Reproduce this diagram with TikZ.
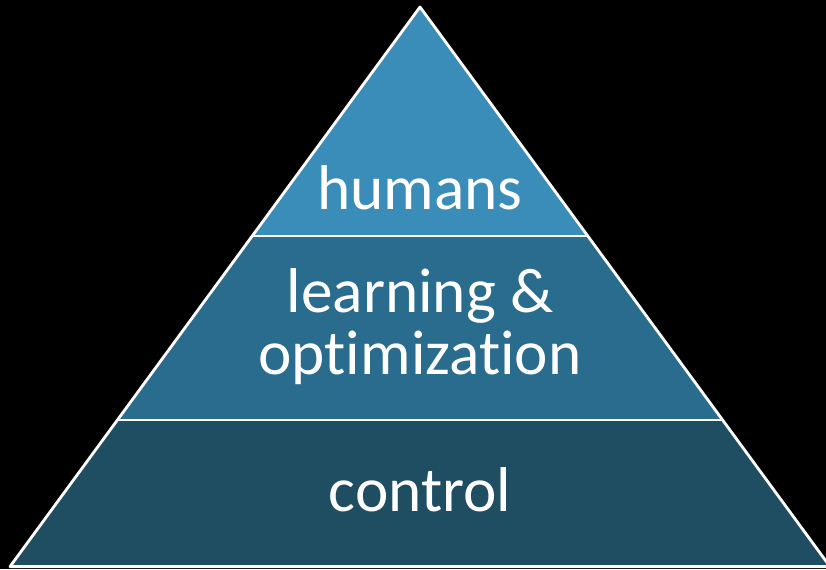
\documentclass[tikz,border=0pt]{standalone}
\usepackage{fontspec}
\setmainfont{Carlito}[Ligatures={NoCommon,NoContextual}]
\begin{document}
\begin{tikzpicture}[
	label/.style={text=white,font=\fontsize{45}{44}\selectfont,align=center,inner sep=0pt},
	edge/.style={white,line width=2pt}]
\definecolor{topcolor}{RGB}{58,140,185}
\definecolor{midcolor}{RGB}{41,108,142}
\definecolor{lowcolor}{RGB}{31,78,99}
	\fill[black] (0,0) rectangle (20.65,14.225);
	\useasboundingbox (0,0) rectangle (20.65,14.225);
	% three bands of the pyramid
	\fill[lowcolor] (0.25,0.06)--(20.75,0.06)--(18.07,3.725)--(2.93,3.725)--cycle;
	\fill[midcolor] (2.93,3.725)--(18.07,3.725)--(14.7,8.325)--(6.3,8.325)--cycle;
	\fill[topcolor] (6.3,8.325)--(14.7,8.325)--(10.5,14.05)--cycle;
	\draw[edge,line join=round] (0.25,0.06)--(10.5,14.05)--(20.75,0.06)--cycle;
	\draw[edge] (2.93,3.725)--(18.07,3.725);
	\draw[edge] (6.3,8.325)--(14.7,8.325);
	\node[label,anchor=base] (humans) at (10.5,8.975){humans};
	\node[label,anchor=base] (learn) at (10.5,4.875){learning \&\\optimization};
	\node[label,anchor=base] (control) at (10.5,1.45){control};
\end{tikzpicture}
\end{document}
